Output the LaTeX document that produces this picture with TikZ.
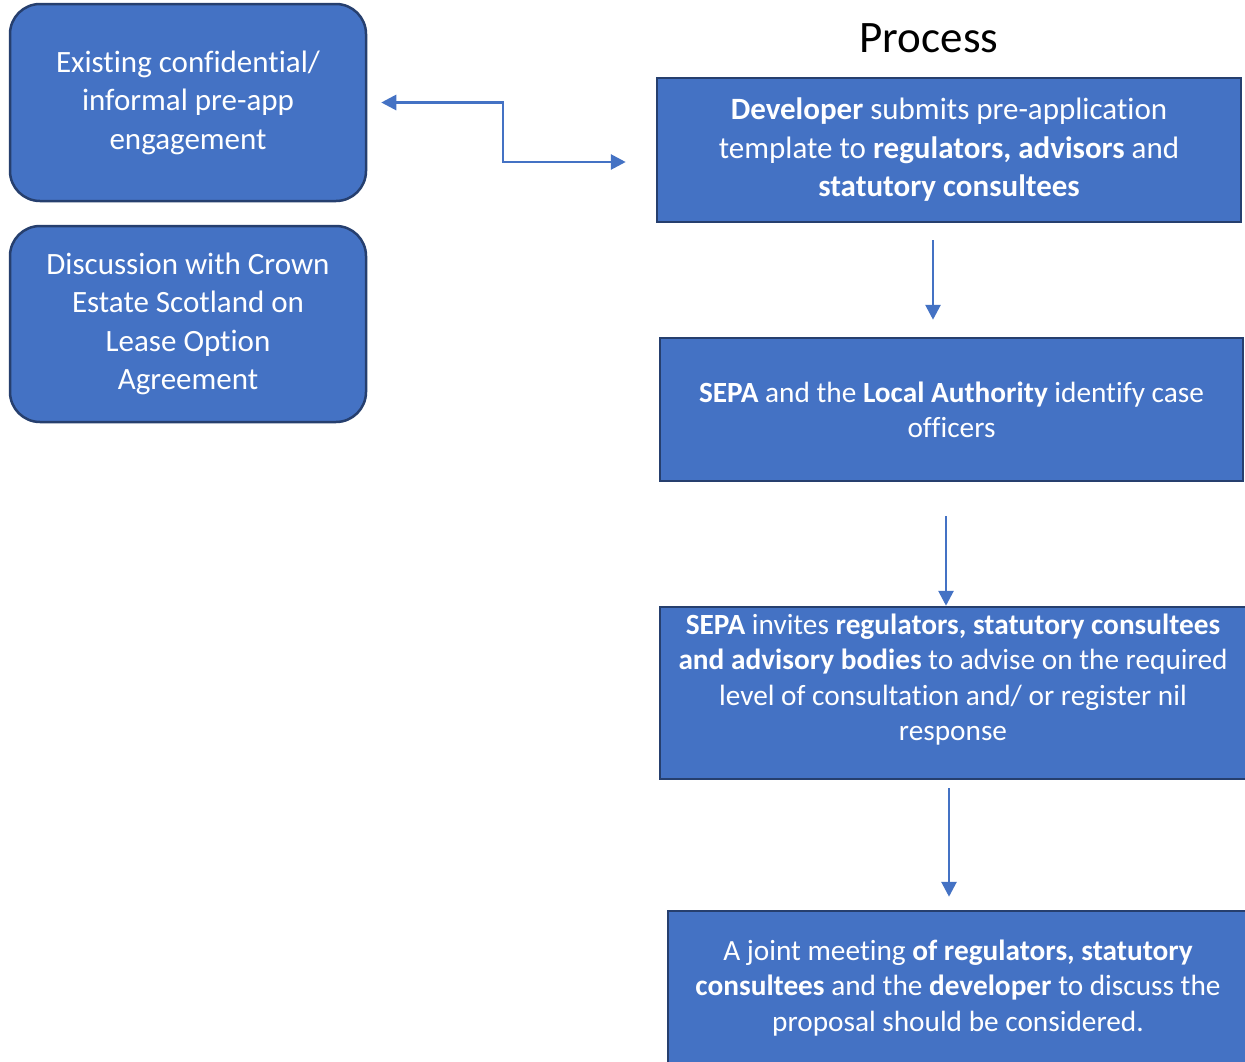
\documentclass[tikz,border=0pt]{standalone}
\usepackage{fontspec}
\setmainfont[Ligatures=NoCommon]{Carlito}
\usetikzlibrary{arrows.meta}

\definecolor{boxBlue}{HTML}{4472C4}
\definecolor{boxEdge}{HTML}{263F6E}
\tikzset{	roundBox/.style={draw=boxEdge,line width=2.5pt,fill=boxBlue,rounded corners=30pt,
				text=white,align=center,inner sep=0pt,minimum width=356pt,
				font=\fontsize{31}{38.5}\selectfont},
		stepBox/.style={draw=boxEdge,line width=2.5pt,fill=boxBlue,text=white,
				align=center,inner sep=0pt,font=\fontsize{29.3}{35.3}\selectfont},
		flowArrow/.style={boxBlue,line width=2.8pt,-{Triangle[length=15pt,width=15pt]}}
				}

\begin{document}
\begin{tikzpicture}[x=1pt,y=-1pt]

	\clip (0,0) rectangle (1245,1061);
	\fill[white] (0,0) rectangle (1245,1061);

	% linke spalte
	\node[roundBox,minimum height=197pt] (exist) at (188,102.5)
		{Existing confidential/\\informal pre-app\\engagement};
	\node[roundBox,minimum height=196pt] (crown) at (188,324)
		{Discussion with Crown\\Estate Scotland on\\Lease Option\\Agreement};

	% ablauf
	\node[font=\fontsize{45}{50}\selectfont] (title) at (929,38) {Process};
	\node[stepBox,minimum width=584pt,minimum height=144pt,
		font=\fontsize{31}{38.5}\selectfont] (submit) at (949,150)
		{\textbf{Developer} submits pre-application\\template to \textbf{regulators, advisors} and\\\textbf{statutory consultees}};
	\node[stepBox,minimum width=583pt,minimum height=143pt] (officers) at (951.5,409.5)
		{\textbf{SEPA} and the \textbf{Local Authority} identify case\\officers};
	\node[stepBox,minimum width=586pt,minimum height=172pt] (invite) at (953,693)
		{\textbf{SEPA} invites \textbf{regulators, statutory consultees}\\\textbf{and advisory bodies} to advise on the required\\level of consultation and/ or register nil\\response\\[-4pt]\mbox{}};
	\node[stepBox,minimum width=580pt,minimum height=154pt] (meeting) at (958,988)
		{A joint meeting \textbf{of regulators, statutory}\\\textbf{consultees} and the \textbf{developer} to discuss the\\proposal should be considered.};

	\coordinate (elbow) at (503,162);
	\draw[flowArrow,{Triangle[length=15pt,width=15pt]}-{Triangle[length=15pt,width=15pt]}]
		([xshift=14pt]exist.east) -| (elbow) -- ([xshift=-30pt]elbow -| submit.west);

	\draw[flowArrow] ([xshift=-16pt,yshift=-17pt]submit.south) -- ([xshift=-16pt,yshift=17pt]submit.south |- officers.north);
	\draw[flowArrow] ([xshift=-5.5pt,yshift=-34pt]officers.south) -- ([xshift=-5.5pt]officers.south |- invite.north);
	\draw[flowArrow] ([xshift=-4pt,yshift=-8pt]invite.south) -- ([xshift=-4pt,yshift=13pt]invite.south |- meeting.north);
\end{tikzpicture}
\end{document}
